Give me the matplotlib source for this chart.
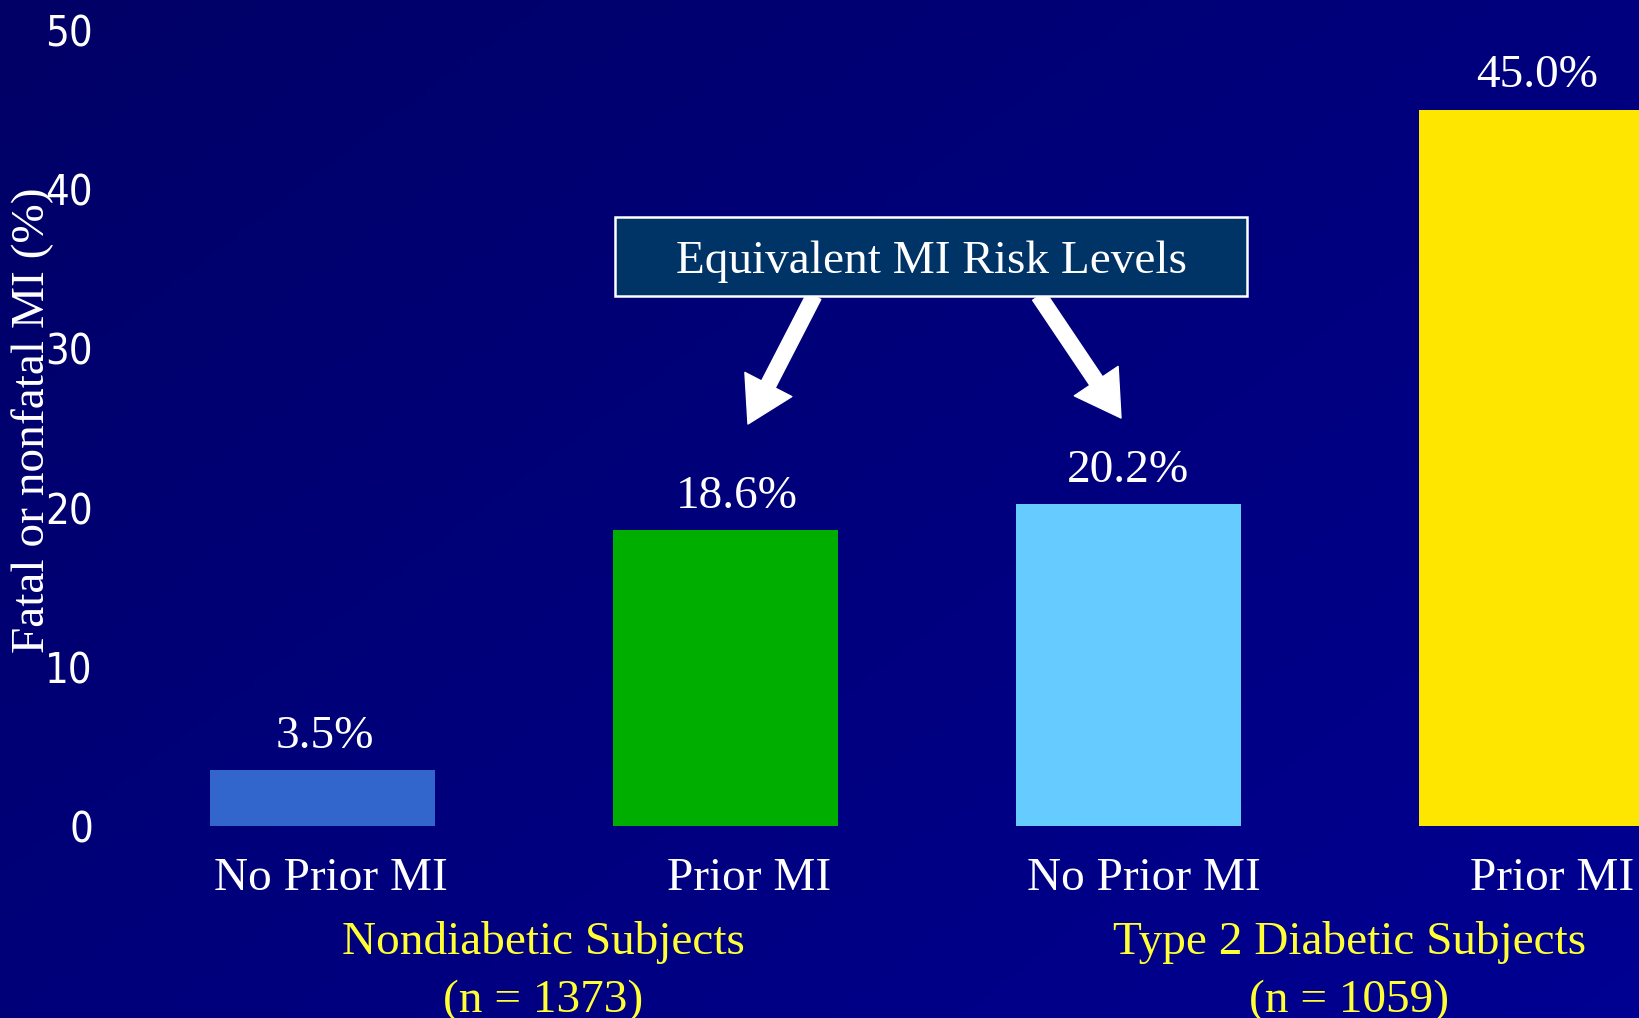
import numpy as np
import matplotlib
matplotlib.use("Agg")
import matplotlib.pyplot as plt
from matplotlib.patches import FancyArrowPatch, Rectangle

# ---- data ----
categories = ["No Prior MI", "Prior MI", "No Prior MI", "Prior MI"]
values = [3.5, 18.6, 20.2, 45.0]
value_labels = ["3.5%", "18.6%", "20.2%", "45.0%"]
groups = ["Nondiabetic Subjects\n(n = 1373)", "Type 2 Diabetic Subjects\n(n = 1059)"]
yticks = [0, 10, 20, 30, 40, 50]
ylabel = "Fatal or nonfatal MI (%)"
callout = "Equivalent MI Risk Levels"

# ---- style ----
bar_colors = ["#3366CC", "#00AE00", "#66CCFF", "#FFE600"]
serif = ["Liberation Serif", "DejaVu Serif"]
FS = 34

W, H = 1640, 1018
fig = plt.figure(figsize=(W / 100, H / 100), dpi=100)

# gradient background
bg = fig.add_axes([0, 0, 1, 1], zorder=-10)
gx, gy = np.meshgrid(np.linspace(0, 1, 200), np.linspace(0, 1, 200))
t = np.clip(0.55 * gx + 0.45 * gy, 0, 1)
c0 = np.array([0x00, 0x00, 0x66]) / 255
c1 = np.array([0x00, 0x00, 0x92]) / 255
img = c0[None, None, :] * (1 - t[..., None]) + c1[None, None, :] * t[..., None]
bg.imshow(img, aspect="auto", extent=[0, 1, 1, 0])
bg.set_axis_off()

# main axes: x from 100 px to 1640 px ; y 0 at 826 px, 50 at 30 px
left_px, right_px = 100, 1640
y0_px, y50_px = 826, 30
ax = fig.add_axes([left_px / W, (H - y0_px) / H, (right_px - left_px) / W, (y0_px - y50_px) / H])
ax.set_facecolor("none")

x = np.arange(len(values))
spacing = 403.0
c0px = 322.5
ax.set_xlim((left_px - c0px) / spacing, (right_px - c0px) / spacing)
ax.set_ylim(0, 50)
ax.bar(x, values, width=0.558, color=bar_colors, zorder=3)

for s in ax.spines.values():
    s.set_visible(False)
ax.set_xticks([])
ax.set_yticks(yticks)
ax.tick_params(axis="y", length=0, pad=5, colors="white")
for lab in ax.get_yticklabels():
    lab.set_fontfamily("DejaVu Sans")
    lab.set_fontstretch("condensed")
    lab.set_fontsize(30)
    lab.set_color("white")

# value labels
val_dx = [2, 8.5, -0.5, 4]
for xi, v, lab, dx in zip(x, values, value_labels, val_dx):
    ax.annotate(lab, (xi, v), xytext=(dx, 16), textcoords="offset points",
                ha="center", va="baseline", color="white", fontsize=FS, family=serif)

# category labels
cat_dx = [6, 17, 11, 15]
for xi, lab, dx in zip(x, categories, cat_dx):
    ax.annotate(lab, (xi, 0), xytext=(dx, -46), textcoords="offset points",
                ha="center", va="baseline", color="white", fontsize=FS, family=serif,
                annotation_clip=False)

# group labels (two lines each)
line_dy = [-92, -134]
for gi, lab in enumerate(groups):
    gxc = (x[2 * gi] + x[2 * gi + 1]) / 2
    for line, dy in zip(lab.split("\n"), line_dy):
        ax.annotate(line, (gxc, 0), xytext=(14, dy), textcoords="offset points",
                    ha="center", va="baseline", color="#FFFF33", fontsize=FS,
                    family=serif, annotation_clip=False)

# y label
fig.text(33 / W, 1 - 420 / H, ylabel, rotation=90, ha="center", va="center",
         color="white", fontsize=FS, family=serif)

# callout box
def px2data(px, py):
    return ((px - c0px) / spacing, (y0_px - py) / ((y0_px - y50_px) / 50))

bx0, by0 = px2data(615, 296)
bx1, by1 = px2data(1247, 217)
ax.add_patch(Rectangle((bx0, by0), bx1 - bx0, by1 - by0, facecolor="#003366",
                       edgecolor="white", linewidth=1.8, zorder=5))
tx, ty = px2data(931, 262)
ax.text(tx, ty, callout, ha="center", va="center", color="white", fontsize=FS,
        family=serif, zorder=6)

for (sx, sy), (ex, ey) in [((814, 296), (748, 424)), ((1039, 296), (1121, 418))]:
    arr = FancyArrowPatch(px2data(sx, sy), px2data(ex, ey),
                          arrowstyle="simple,head_length=32,head_width=38,tail_width=11",
                          mutation_scale=1, facecolor="white", edgecolor="white",
                          shrinkA=0, shrinkB=0, zorder=4)
    ax.add_patch(arr)

fig.savefig("out.png", dpi=100)
